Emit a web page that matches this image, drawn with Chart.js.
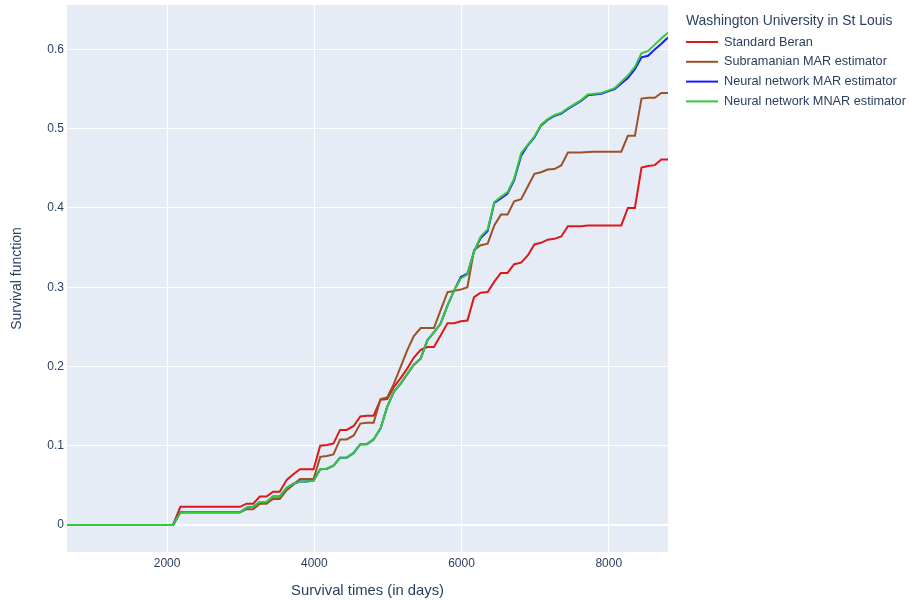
<!DOCTYPE html>
<html>
<head>
<meta charset="utf-8">
<script src="https://cdn.jsdelivr.net/npm/chart.js@4.4.1/dist/chart.umd.min.js"></script>
<style>
  html, body { margin: 0; padding: 0; background: #fff; }
  canvas { display: block; }
</style>
</head>
<body>
<canvas id="survChart" width="909" height="601"></canvas>
<script>
// === data ===
const legendTitle = 'Washington University in St Louis';
const seriesNames = ['Standard Beran', 'Subramanian MAR estimator', 'Neural network MAR estimator', 'Neural network MNAR estimator'];
const seriesColors = ['#dc1818', '#9c5227', '#1a1aff', '#35c935'];

const times = [640, 2080, 2180,
  2990, 3080, 3170, 3260, 3350, 3440, 3530, 3625, 3715, 3805, 3895, 3990,
  4080, 4170, 4260, 4350, 4440, 4535, 4625, 4715, 4805, 4900, 4990,
  5080, 5170, 5260, 5350, 5445, 5535, 5625, 5715, 5810, 5900, 5990,
  6080, 6170, 6260, 6355, 6445, 6535, 6625, 6715, 6810, 6900, 6990,
  7080, 7170, 7260, 7355, 7445, 7535, 7625, 7715, 7810, 7900, 7990,
  8080, 8170, 8260, 8355, 8445, 8535, 8625, 8715, 8805];

const beran = [0, 0, 0.023,
  0.023, 0.027, 0.027, 0.036, 0.036, 0.042, 0.042, 0.057, 0.064, 0.0705, 0.0705, 0.0705,
  0.100, 0.101, 0.103, 0.120, 0.120, 0.125, 0.137, 0.138, 0.138, 0.158, 0.159,
  0.174, 0.185, 0.197, 0.211, 0.221, 0.2245, 0.2245, 0.239, 0.2547, 0.2547, 0.257,
  0.258, 0.2874, 0.293, 0.294, 0.307, 0.318, 0.318, 0.329, 0.331, 0.340, 0.354,
  0.356, 0.360, 0.361, 0.364, 0.377, 0.377, 0.377, 0.378, 0.378, 0.378, 0.378,
  0.378, 0.378, 0.400, 0.400, 0.451, 0.453, 0.454, 0.461, 0.461];

const subramanian = [0, 0, 0.016,
  0.016, 0.020, 0.020, 0.027, 0.027, 0.033, 0.033, 0.044, 0.051, 0.058, 0.058, 0.058,
  0.086, 0.087, 0.089, 0.108, 0.108, 0.113, 0.128, 0.129, 0.129, 0.159, 0.161,
  0.178, 0.199, 0.220, 0.238, 0.2485, 0.2485, 0.2485, 0.2707, 0.2937, 0.2954, 0.297,
  0.300, 0.347, 0.353, 0.355, 0.378, 0.3916, 0.3916, 0.4084, 0.411, 0.427, 0.443,
  0.445, 0.4485, 0.449, 0.4536, 0.470, 0.470, 0.470, 0.4705, 0.471, 0.471, 0.471,
  0.471, 0.471, 0.491, 0.491, 0.538, 0.539, 0.539, 0.545, 0.545];

const nnMar = [0, 0, 0.016,
  0.016, 0.022, 0.023, 0.029, 0.029, 0.036, 0.036, 0.047, 0.052, 0.055, 0.055, 0.056,
  0.0705, 0.071, 0.075, 0.085, 0.085, 0.091, 0.102, 0.102, 0.108, 0.122, 0.149,
  0.168, 0.178, 0.190, 0.202, 0.210, 0.233, 0.243, 0.254, 0.277, 0.296, 0.313,
  0.317, 0.345, 0.362, 0.371, 0.4065, 0.412, 0.418, 0.435, 0.466, 0.479, 0.489,
  0.504, 0.511, 0.516, 0.519, 0.525, 0.530, 0.535, 0.542, 0.543, 0.544, 0.547,
  0.550, 0.557, 0.564, 0.575, 0.590, 0.592, 0.600, 0.607, 0.615];

const nnMnar = [0, 0, 0.016,
  0.016, 0.022, 0.023, 0.029, 0.029, 0.036, 0.036, 0.047, 0.052, 0.055, 0.055, 0.056,
  0.0705, 0.071, 0.075, 0.085, 0.085, 0.091, 0.102, 0.102, 0.108, 0.122, 0.149,
  0.168, 0.178, 0.190, 0.202, 0.210, 0.233, 0.243, 0.254, 0.277, 0.296, 0.311,
  0.316, 0.345, 0.364, 0.373, 0.4075, 0.414, 0.420, 0.437, 0.469, 0.480, 0.490,
  0.505, 0.512, 0.517, 0.520, 0.526, 0.531, 0.536, 0.543, 0.544, 0.545, 0.548,
  0.551, 0.559, 0.567, 0.578, 0.595, 0.598, 0.606, 0.614, 0.621];

const xTicks = [2000, 4000, 6000, 8000];
const yTicks = [0, 0.1, 0.2, 0.3, 0.4, 0.5, 0.6];

// === look ===
const ink = '#2a3f5f';
const FONT = "'Liberation Sans', Arial, sans-serif";

Chart.defaults.font.family = FONT;
Chart.defaults.color = ink;

function pts(ys) { return times.map((t, i) => ({ x: t, y: ys[i] })); }

// plot background
const plotBg = {
  id: 'plotBg',
  beforeDraw(chart) {
    const a = chart.chartArea, c = chart.ctx;
    c.save();
    c.fillStyle = '#e5ecf6';
    c.fillRect(a.left, a.top, a.right - a.left, a.bottom - a.top);
    c.restore();
  }
};

// legend on the right, plotly style
const sideLegend = {
  id: 'sideLegend',
  afterDraw(chart) {
    const c = chart.ctx;
    const x0 = 686;
    c.save();
    c.fillStyle = ink;
    c.textBaseline = 'middle';
    c.font = '13.9px ' + FONT;
    c.fillText(legendTitle, x0, 21);
    c.font = '12.7px ' + FONT;
    chart.data.datasets.forEach((ds, i) => {
      const y = 42 + i * 19.8;
      c.strokeStyle = ds.borderColor;
      c.lineWidth = 2;
      c.beginPath();
      c.moveTo(x0, y);
      c.lineTo(x0 + 32, y);
      c.stroke();
      c.fillStyle = ink;
      c.fillText(ds.label, x0 + 38, y);
    });
    c.restore();
  }
};

const noPad = s => { s.paddingTop = 0; s.paddingBottom = 0; s.paddingLeft = 0; s.paddingRight = 0; };

const allSeries = [beran, subramanian, nnMar, nnMnar];

new Chart(document.getElementById('survChart'), {
  type: 'line',
  data: {
    datasets: allSeries.map((ys, i) => ({
      label: seriesNames[i],
      data: pts(ys),
      borderColor: seriesColors[i],
      backgroundColor: seriesColors[i],
      borderWidth: 2,
      pointRadius: 0,
      tension: 0,
      fill: false,
      order: allSeries.length - i
    }))
  },
  options: {
    responsive: false,
    animation: false,
    devicePixelRatio: 1,
    layout: { padding: { left: 0, top: 5, right: 241, bottom: 0 } },
    plugins: { legend: { display: false }, tooltip: { enabled: false } },
    scales: {
      x: {
        type: 'linear',
        min: 640, max: 8805,
        afterBuildTicks: s => { s.ticks = xTicks.map(v => ({ value: v })); },
        afterFit: s => { s.height = 49; noPad(s); },
        border: { display: false },
        grid: { color: '#ffffff', lineWidth: 1, drawTicks: false },
        ticks: { padding: 4, font: { size: 12 }, color: ink, callback: v => String(v), maxRotation: 0 },
        title: { display: true, text: 'Survival times (in days)', font: { size: 14.8 }, color: ink, padding: { top: 0, bottom: 1 } }
      },
      y: {
        type: 'linear',
        min: -0.034, max: 0.656,
        afterBuildTicks: s => { s.ticks = yTicks.map(v => ({ value: v })); },
        afterFit: s => { s.width = 67; noPad(s); },
        border: { display: false },
        grid: { color: '#ffffff', lineWidth: ctx => (ctx.tick && ctx.tick.value === 0 ? 2 : 1), drawTicks: false },
        ticks: { padding: 3, font: { size: 12 }, color: ink, callback: v => (v === 0 ? '0' : v.toFixed(1)) },
        title: { display: true, text: 'Survival function', font: { size: 14 }, color: ink, padding: { top: 9, bottom: 0 } }
      }
    }
  },
  plugins: [plotBg, sideLegend]
});
</script>
</body>
</html>
